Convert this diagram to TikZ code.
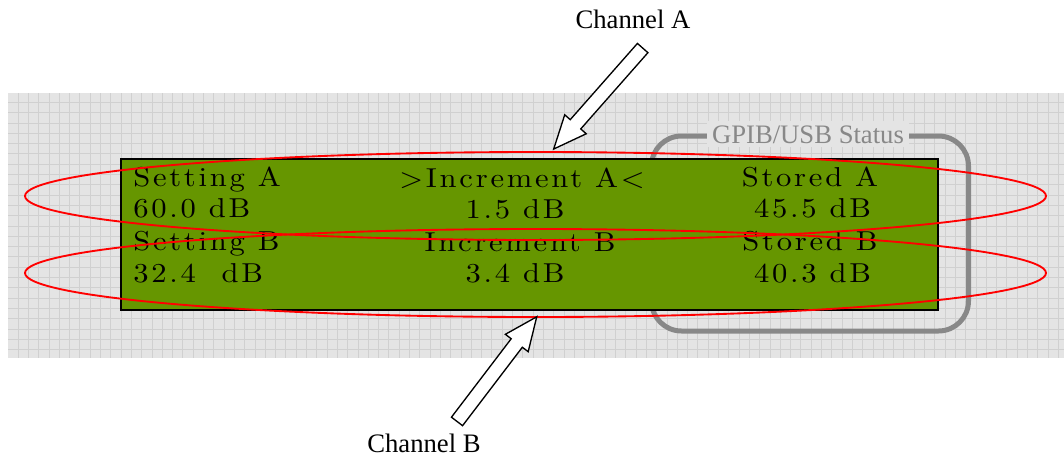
\documentclass[tikz,border=0pt]{standalone}
\usepackage{fontspec}
\usepackage{tikz}
\usetikzlibrary{shapes.geometric, shapes.arrows, calc}
\newfontfamily\labelfont{Liberation Serif}
\newfontfamily\lcdfont{lmroman10-regular}[Extension=.otf, FakeStretch=1.12, LetterSpace=10]
\definecolor{lcdgreen}{RGB}{102, 150, 0}
\definecolor{gridbg}{RGB}{228, 228, 228}
\definecolor{gridline}{RGB}{208, 208, 208}
\definecolor{statusgray}{RGB}{136, 136, 136}
\definecolor{chanred}{RGB}{255, 0, 0}

\begin{document}
\begin{tikzpicture}[x=0.75pt, y=-0.75pt,
  lcdtext/.style={anchor=base, inner sep=0pt, font=\lcdfont\fontsize{20.5}{21}\selectfont},
  labeltext/.style={inner sep=0pt, anchor=base, font=\labelfont\fontsize{20}{21}\selectfont},
  blockarrow/.style={single arrow, draw=black, fill=white, line width=1pt, inner xsep=0pt, inner ysep=4.75pt,
    single arrow head extend=5.5pt, single arrow tip angle=47}]
  \useasboundingbox (0,0) rectangle (1064,458);

  % Grid panel
  \fill[gridbg] (8,93) rectangle (1064,358);
  \foreach \gx in {18,28.3,...,1064} \draw[gridline, line width=0.6pt] (\gx,93) -- (\gx,358);
  \foreach \gy in {102.3,112.6,...,358} \draw[gridline, line width=0.6pt] (8,\gy) -- (1064,\gy);

  % GPIB/USB status frame
  \draw[statusgray, line width=3.75pt, rounded corners=22.5pt] (651.5,136) rectangle (968.5,331);
  \node[labeltext, fill=gridbg, text=statusgray, inner xsep=4pt, inner ysep=3pt] (status) at (808,143) {GPIB/USB Status};

  % LCD panel
  \draw[fill=lcdgreen, line width=1.5pt] (121,159) rectangle (938,310);

  % Row texts
  \node[lcdtext, anchor=base west] (setA) at (133,186.5) {Setting A};
  \node[lcdtext, anchor=base west] (valA) at (133,217.5) {60.0 dB};
  \node[lcdtext, anchor=base west] (setB) at (133,250) {Setting B};
  \node[lcdtext, anchor=base west] (valB) at (133,282) {32.4\ \ dB};

  \node[lcdtext] (incA) at (522,187) {>Increment A<};
  \node[lcdtext] (incvalA) at (515,218) {1.5 dB};
  \node[lcdtext] (incB) at (520,251) {Increment B};
  \node[lcdtext] (incvalB) at (515,282) {3.4 dB};

  \node[lcdtext] (stoA) at (810,186.5) {Stored A};
  \node[lcdtext] (stovalA) at (812.5,217.5) {45.5 dB};
  \node[lcdtext] (stoB) at (810,250) {Stored B};
  \node[lcdtext] (stovalB) at (812.5,282) {40.3 dB};

  % Channel rings
  \coordinate (chA) at (535.5,196);
  \coordinate (chB) at (535.5,273);
  \draw[chanred, line width=1.4pt] (chA) ellipse [x radius=510.5, y radius=44];
  \draw[chanred, line width=1.4pt] (chB) ellipse [x radius=510.5, y radius=44];

  % Labels and block arrows
  \node[labeltext] (labA) at (633,28) {Channel A};
  \node[labeltext] (labB) at (424,452) {Channel B};
  \coordinate (tailA) at (648,42);
  \coordinate (tipA) at (559,143);
  \coordinate (tailB) at (452,428);
  \coordinate (tipB) at (532,323);
  \foreach \c in {A,B}
    \path let \p1=($(tip\c)-(tail\c)$), \n1={atan2(\y1,\x1)}, \n2={veclen(\x1,\y1)} in
      node[blockarrow, minimum height=\n2, rotate=\n1] at ($(tail\c)!0.5!(tip\c)$) {};
\end{tikzpicture}
\end{document}
